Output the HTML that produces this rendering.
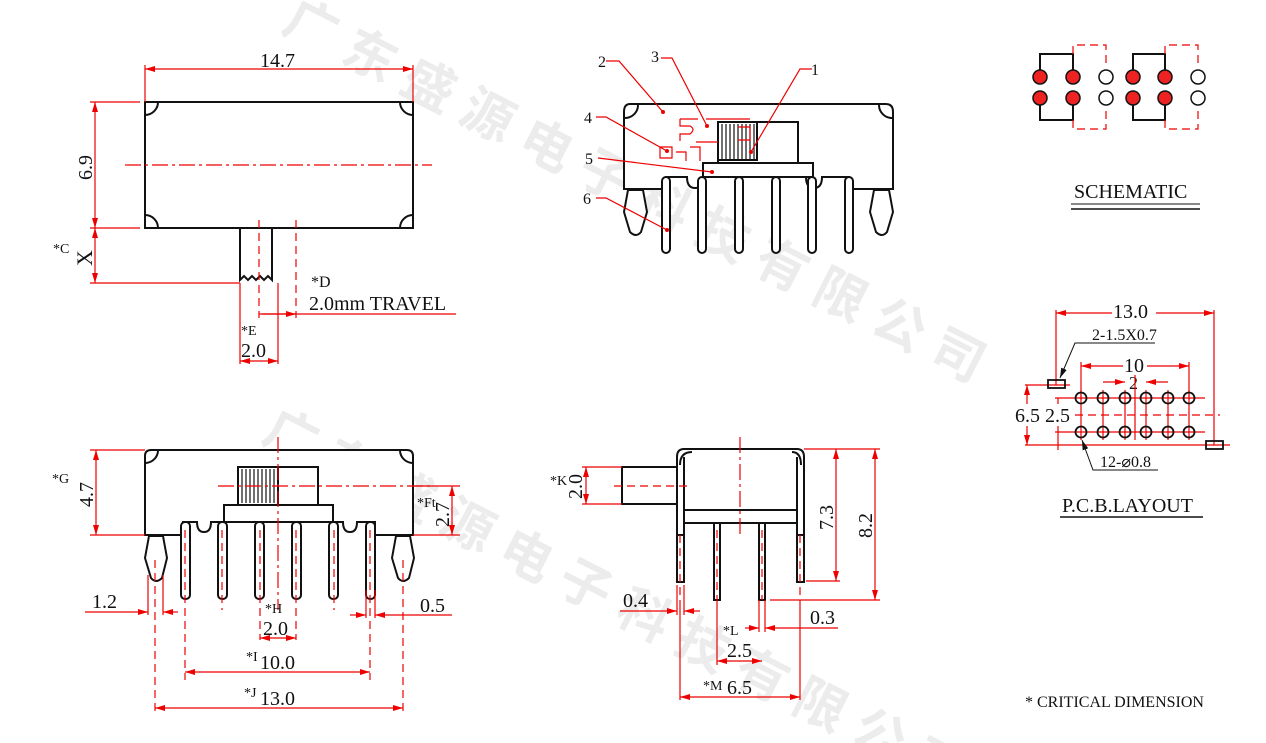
<!DOCTYPE html>
<html><head><meta charset="utf-8"><style>
html,body{margin:0;padding:0;background:#fff;width:1266px;height:743px;overflow:hidden}
svg{display:block}
text{font-family:"Liberation Serif","Noto Serif CJK SC",serif;fill:#111}
.wm{font-family:"Noto Sans CJK SC",sans-serif;fill:#ececec;font-weight:bold}
.k{stroke:#111;stroke-width:2;fill:none}
.kf{stroke:#111;stroke-width:2;fill:#fff}
.r{stroke:#e00;stroke-width:1.2;fill:none}
.rd{stroke:#e00;stroke-width:1.2;fill:none;stroke-dasharray:16,4,3,4}
.rdash{stroke:#e00;stroke-width:1.2;fill:none;stroke-dasharray:8,5}
</style></head><body>
<svg width="1266" height="743" viewBox="0 0 1266 743" xmlns="http://www.w3.org/2000/svg">
<defs>
<marker id="a" viewBox="0 0 10 6" refX="10" refY="3" markerWidth="10" markerHeight="6" orient="auto-start-reverse" markerUnits="userSpaceOnUse"><path d="M0,0 L10,3 L0,6z" fill="#e00"/></marker>
<marker id="b" viewBox="0 0 10 6" refX="10" refY="3" markerWidth="10" markerHeight="6" orient="auto-start-reverse" markerUnits="userSpaceOnUse"><path d="M0,0 L10,3 L0,6z" fill="#111"/></marker>
</defs>
<text class="wm" font-size="52" letter-spacing="14" transform="translate(280,30) rotate(27)">广东盛源电子科技有限公司</text>
<text class="wm" font-size="52" letter-spacing="14" transform="translate(260,440) rotate(27)">广东盛源电子科技有限公司</text>

<rect class="k" x="145" y="102" width="268" height="126"/>
<path class="k" stroke-width="1.5" d="M145,115 A13,13 0 0 0 158,102 M400,102 A13,13 0 0 0 413,115 M145,215 A13,13 0 0 1 158,228 M413,215 A13,13 0 0 0 400,228"/>
<line class="rd" x1="125" y1="165" x2="432" y2="165"/>
<path class="k" d="M240,228 V280 l4,-4 4,4 4,-4 4,4 4,-4 4,4 4,-4 4,4 V228"/>
<line class="rdash" x1="259" y1="220" x2="259" y2="318"/>
<line class="rdash" x1="296" y1="220" x2="296" y2="318"/>
<line class="r" x1="145" y1="65" x2="145" y2="102"/><line class="r" x1="413" y1="65" x2="413" y2="102"/>
<line class="r" x1="145" y1="69" x2="413" y2="69" marker-start="url(#a)" marker-end="url(#a)"/>
<text x="260" y="67" font-size="20">14.7</text>
<line class="r" x1="90" y1="102" x2="140" y2="102"/><line class="r" x1="90" y1="228" x2="140" y2="228"/>
<line class="r" x1="95" y1="102" x2="95" y2="228" marker-start="url(#a)" marker-end="url(#a)"/>
<text font-size="20" transform="translate(92,180) rotate(-90)">6.9</text>
<line class="r" x1="95" y1="228" x2="95" y2="283" marker-start="url(#a)" marker-end="url(#a)"/>
<line class="r" x1="90" y1="283" x2="240" y2="283"/>
<text x="53" y="253" font-size="14">*C</text>
<text font-size="22" transform="translate(92,266) rotate(-90)">X</text>
<text x="311" y="287" font-size="16">*D</text>
<text x="309" y="310" font-size="20">2.0mm TRAVEL</text>
<line class="r" x1="259" y1="314" x2="456" y2="314"/>
<line class="r" x1="262" y1="314" x2="296" y2="314" marker-end="url(#a)"/>
<line class="r" x1="240" y1="283" x2="240" y2="364"/><line class="r" x1="278" y1="283" x2="278" y2="364"/>
<line class="r" x1="240" y1="361" x2="278" y2="361" marker-start="url(#a)" marker-end="url(#a)"/>
<text x="241" y="335" font-size="14">*E</text>
<text x="241" y="357" font-size="20">2.0</text>

<path class="kf" d="M630,104 H886 Q893,104 893,112 V189 H849 V177 H822 Q822,188 814,188 Q806,188 806,177 H703 Q703,188 695,188 Q687,188 687,177 H667 V189 H624 V112 Q624,104 630,104Z"/>
<path class="k" stroke-width="1.5" d="M625,118 A13,13 0 0 0 638,105 M879,105 A13,13 0 0 0 892,118"/>
<rect class="k" x="718" y="122" width="80" height="41"/>
<rect class="k" x="703" y="163" width="110" height="14"/>
<g stroke="#111" stroke-width="1.2">
<line x1="722" y1="124" x2="722" y2="160"/><line x1="726" y1="124" x2="726" y2="160"/><line x1="730" y1="124" x2="730" y2="160"/><line x1="734" y1="124" x2="734" y2="160"/><line x1="738" y1="124" x2="738" y2="160"/><line x1="742" y1="124" x2="742" y2="160"/><line x1="746" y1="124" x2="746" y2="160"/><line x1="750" y1="124" x2="750" y2="160"/><line x1="754" y1="124" x2="754" y2="160"/></g>
<rect class="k" x="718" y="122" width="39" height="38"/>
<g class="k" fill="#fff">
<rect x="662" y="177" width="8" height="76" rx="4" fill="#fff"/>
<rect x="698" y="177" width="8" height="76" rx="4" fill="#fff"/>
<rect x="735" y="177" width="8" height="76" rx="4" fill="#fff"/>
<rect x="772" y="177" width="8" height="76" rx="4" fill="#fff"/>
<rect x="808" y="177" width="8" height="76" rx="4" fill="#fff"/>
<rect x="845" y="177" width="8" height="76" rx="4" fill="#fff"/>
</g>
<path class="kf" d="M628,190 L624,212 L630,232 Q636,238 641,232 L647,212 L643,190Z"/>
<path class="kf" d="M874,190 L870,212 L876,232 Q882,238 887,232 L893,212 L889,190Z"/>
<path class="r" d="M680,119 H698 M706,119 H750 M680,119 V126 H690 Q696,129 690,134 H680 V141 M660,147 H672 V158 H660Z M676,152 H686 V161 M690,147 H700 V161 M696,142 H718 M738,127 H750 V140 H738"/>
<g fill="#e00"><circle cx="663" cy="112" r="2"/><circle cx="707" cy="126" r="2"/><circle cx="751" cy="152" r="2"/><circle cx="667" cy="151" r="2"/><circle cx="712" cy="172" r="2"/><circle cx="667" cy="230" r="2"/></g>
<path class="r" d="M606,61 H619 L663,112 M661,58 H672 L707,126 M812,69 H800 L751,152 M596,117 H606 L667,151 M598,158 L712,172 M596,198 H606 L667,230"/>
<g font-size="16"><text x="598" y="67">2</text><text x="651" y="62">3</text><text x="811" y="75">1</text><text x="584" y="123">4</text><text x="585" y="164">5</text><text x="583" y="204">6</text></g>

<path class="k" stroke-width="1.5" d="M1040,77 V54 H1073 V77 M1040,98 V120 H1073 V98 M1133,77 V54 H1165 V77 M1133,98 V120 H1165 V98"/>
<path class="rdash" d="M1073,54 V45 H1106 V68 M1073,120 V129 H1106 V107 M1165,54 V45 H1198 V68 M1165,120 V129 H1198 V107"/>
<g stroke="#111" stroke-width="1.5">
<circle cx="1040" cy="77" r="7" fill="#e22"/><circle cx="1073" cy="77" r="7" fill="#e22"/><circle cx="1106" cy="77" r="7" fill="#fff"/>
<circle cx="1040" cy="98" r="7" fill="#e22"/><circle cx="1073" cy="98" r="7" fill="#e22"/><circle cx="1106" cy="98" r="7" fill="#fff"/>
<circle cx="1133" cy="77" r="7" fill="#e22"/><circle cx="1165" cy="77" r="7" fill="#e22"/><circle cx="1198" cy="77" r="7" fill="#fff"/>
<circle cx="1133" cy="98" r="7" fill="#e22"/><circle cx="1165" cy="98" r="7" fill="#e22"/><circle cx="1198" cy="98" r="7" fill="#fff"/>
</g>
<text x="1074" y="198" font-size="20">SCHEMATIC</text>
<line x1="1071" y1="204" x2="1200" y2="204" stroke="#111"/><line x1="1071" y1="209" x2="1200" y2="209" stroke="#111" stroke-width="1.5"/>

<line class="r" x1="1056" y1="310" x2="1056" y2="385"/><line class="r" x1="1214" y1="310" x2="1214" y2="445"/>
<line class="r" x1="1056" y1="313" x2="1214" y2="313" marker-start="url(#a)" marker-end="url(#a)"/>
<rect x="1112" y="302" width="44" height="18" fill="#fff"/>
<text x="1113" y="318" font-size="20">13.0</text>
<text x="1092" y="340" font-size="16">2-1.5X0.7</text>
<path d="M1155,343 H1075 L1060,378" stroke="#111" stroke-width="1" fill="none" marker-end="url(#b)"/>
<line class="r" x1="1081" y1="362" x2="1081" y2="400"/><line class="r" x1="1189" y1="362" x2="1189" y2="400"/>
<line class="r" x1="1081" y1="366" x2="1189" y2="366" marker-start="url(#a)" marker-end="url(#a)"/>
<rect x="1123" y="356" width="24" height="16" fill="#fff"/><text x="1124" y="372" font-size="20">10</text>
<line class="r" x1="1103" y1="382" x2="1125" y2="382" marker-end="url(#a)"/>
<line class="r" x1="1146" y1="382" x2="1168" y2="382" marker-start="url(#a)"/>
<text x="1129" y="389" font-size="18">2</text>
<line class="r" x1="1135" y1="375" x2="1135" y2="440"/>
<line class="r" x1="1025" y1="385" x2="1070" y2="385"/>
<line class="r" x1="1025" y1="445" x2="1230" y2="445"/>
<line class="r" x1="1027" y1="385" x2="1027" y2="445" marker-start="url(#a)" marker-end="url(#a)"/>
<line class="r" x1="1055" y1="398" x2="1205" y2="398"/><line class="r" x1="1055" y1="432" x2="1205" y2="432"/>
<line class="r" x1="1058" y1="398" x2="1058" y2="450"/>
<line class="rdash" x1="1075" y1="415" x2="1220" y2="415"/>
<rect x="1012" y="404" width="58" height="22" fill="#fff"/>
<text x="1015" y="422" font-size="20">6.5</text><text x="1045" y="422" font-size="20">2.5</text>
<g class="r">
<line x1="1081" y1="390" x2="1081" y2="440"/><line x1="1103" y1="390" x2="1103" y2="440"/><line x1="1125" y1="390" x2="1125" y2="440"/><line x1="1146" y1="390" x2="1146" y2="440"/><line x1="1168" y1="390" x2="1168" y2="440"/><line x1="1189" y1="390" x2="1189" y2="440"/></g>
<g stroke="#111" stroke-width="1.8" fill="none">
<circle cx="1081" cy="398" r="5.5"/><circle cx="1103" cy="398" r="5.5"/><circle cx="1125" cy="398" r="5.5"/><circle cx="1146" cy="398" r="5.5"/><circle cx="1168" cy="398" r="5.5"/><circle cx="1189" cy="398" r="5.5"/>
<circle cx="1081" cy="432" r="5.5"/><circle cx="1103" cy="432" r="5.5"/><circle cx="1125" cy="432" r="5.5"/><circle cx="1146" cy="432" r="5.5"/><circle cx="1168" cy="432" r="5.5"/><circle cx="1189" cy="432" r="5.5"/>
<rect x="1048" y="380" width="17" height="8"/><rect x="1206" y="441" width="17" height="8"/></g>
<path d="M1158,470 H1093 L1082,440" stroke="#111" stroke-width="1" fill="none" marker-end="url(#b)"/>
<text x="1100" y="467" font-size="16">12-⌀0.8</text>
<text x="1062" y="512" font-size="20">P.C.B.LAYOUT</text>
<line x1="1060" y1="517" x2="1203" y2="517" stroke="#111" stroke-width="1.5"/>
<text x="1025" y="707" font-size="16">* CRITICAL  DIMENSION</text>

<path class="kf" d="M151,450 H407 Q413,450 413,456 V535 H375 V522 H357 Q357,532 350,532 Q343,532 343,522 H211 Q211,532 204,532 Q197,532 197,522 H183 V535 H145 V456 Q145,450 151,450Z"/>
<path class="k" stroke-width="1.5" d="M146,463 A13,13 0 0 0 158,451 M400,451 A13,13 0 0 0 412,463"/>
<rect class="k" x="238" y="467" width="80" height="38"/>
<rect class="k" x="238" y="467" width="40" height="38"/>
<g stroke="#111" stroke-width="1.2"><line x1="242" y1="469" x2="242" y2="503"/><line x1="246" y1="469" x2="246" y2="503"/><line x1="250" y1="469" x2="250" y2="503"/><line x1="254" y1="469" x2="254" y2="503"/><line x1="258" y1="469" x2="258" y2="503"/><line x1="262" y1="469" x2="262" y2="503"/><line x1="266" y1="469" x2="266" y2="503"/><line x1="270" y1="469" x2="270" y2="503"/><line x1="274" y1="469" x2="274" y2="503"/></g>
<rect class="kf" x="224" y="505" width="109" height="17"/>
<g class="kf">
<rect x="181" y="522" width="9" height="77" rx="4"/><rect x="218" y="522" width="9" height="77" rx="4"/><rect x="255" y="522" width="9" height="77" rx="4"/><rect x="292" y="522" width="9" height="77" rx="4"/><rect x="329" y="522" width="9" height="77" rx="4"/><rect x="366" y="522" width="9" height="77" rx="4"/></g>
<path class="kf" d="M149,536 L145,558 L151,578 Q156,584 162,578 L167,558 L163,536Z"/>
<path class="kf" d="M396,536 L392,558 L398,578 Q403,584 409,578 L414,558 L410,536Z"/>
<line class="rd" x1="278" y1="437" x2="278" y2="610"/>
<line class="rd" x1="218" y1="486" x2="432" y2="486"/>
<g class="rdash"><line x1="185" y1="530" x2="185" y2="680"/><line x1="222" y1="530" x2="222" y2="610"/><line x1="260" y1="530" x2="260" y2="640"/><line x1="296" y1="530" x2="296" y2="640"/><line x1="334" y1="530" x2="334" y2="610"/><line x1="370" y1="530" x2="370" y2="680"/><line x1="155" y1="560" x2="155" y2="712"/><line x1="403" y1="560" x2="403" y2="712"/></g>
<line class="r" x1="90" y1="450" x2="145" y2="450"/><line class="r" x1="90" y1="535" x2="145" y2="535"/>
<line class="r" x1="96" y1="450" x2="96" y2="535" marker-start="url(#a)" marker-end="url(#a)"/>
<text x="52" y="483" font-size="14">*G</text>
<text font-size="20" transform="translate(93,507) rotate(-90)">4.7</text>
<line class="r" x1="413" y1="486" x2="460" y2="486"/><line class="r" x1="413" y1="535" x2="460" y2="535"/>
<line class="r" x1="452" y1="486" x2="452" y2="535" marker-start="url(#a)" marker-end="url(#a)"/>
<text x="417" y="507" font-size="14">*Ft</text>
<text font-size="20" transform="translate(449,527) rotate(-90)">2.7</text>
<line class="r" x1="148" y1="575" x2="148" y2="615"/><line class="r" x1="163" y1="575" x2="163" y2="615"/>
<line class="r" x1="85" y1="612" x2="148" y2="612" marker-end="url(#a)"/><line class="r" x1="178" y1="612" x2="163" y2="612" marker-end="url(#a)"/>
<text x="92" y="608" font-size="20">1.2</text>
<line class="r" x1="366" y1="590" x2="366" y2="618"/><line class="r" x1="375" y1="590" x2="375" y2="618"/>
<line class="r" x1="350" y1="615" x2="366" y2="615" marker-end="url(#a)"/><line class="r" x1="452" y1="615" x2="375" y2="615" marker-end="url(#a)"/>
<text x="420" y="612" font-size="20">0.5</text>
<line class="r" x1="260" y1="638" x2="296" y2="638" marker-start="url(#a)" marker-end="url(#a)"/>
<text x="265" y="613" font-size="14">*H</text><text x="263" y="635" font-size="20">2.0</text>
<line class="r" x1="185" y1="672" x2="370" y2="672" marker-start="url(#a)" marker-end="url(#a)"/>
<text x="246" y="661" font-size="14">*I</text><text x="260" y="669" font-size="20">10.0</text>
<line class="r" x1="155" y1="708" x2="403" y2="708" marker-start="url(#a)" marker-end="url(#a)"/>
<text x="244" y="697" font-size="14">*J</text><text x="260" y="705" font-size="20">13.0</text>

<path class="kf" d="M684,449 H797 Q804,449 804,457 V582 H797 V523 H684 V582 H677 V457 Q677,449 684,449Z"/>
<line class="k" x1="684" y1="457" x2="684" y2="523"/><line class="k" x1="797" y1="457" x2="797" y2="523"/>
<line class="k" x1="684" y1="510" x2="797" y2="510"/>
<line class="k" stroke-width="1.2" x1="677" y1="535" x2="684" y2="535"/><line class="k" stroke-width="1.2" x1="797" y1="535" x2="804" y2="535"/>
<path class="k" stroke-width="1.5" d="M680,465 Q680,452 692,452 M792,452 Q801,452 801,465"/>
<rect class="kf" x="622" y="467" width="55" height="37"/>
<rect class="kf" x="714" y="523" width="6" height="77"/><rect class="kf" x="759" y="523" width="6" height="77"/>
<line class="rd" x1="740" y1="437" x2="740" y2="538"/>
<line class="rdash" x1="614" y1="486" x2="690" y2="486"/>
<line class="rdash" x1="680" y1="535" x2="680" y2="600"/><line class="rdash" x1="800" y1="535" x2="800" y2="600"/>
<line class="rdash" x1="717" y1="530" x2="717" y2="600"/><line class="rdash" x1="762" y1="530" x2="762" y2="600"/>
<line class="r" x1="582" y1="467" x2="622" y2="467"/><line class="r" x1="582" y1="504" x2="622" y2="504"/>
<line class="r" x1="586" y1="467" x2="586" y2="504" marker-start="url(#a)" marker-end="url(#a)"/>
<text x="550" y="485" font-size="14">*K</text>
<text font-size="20" transform="translate(582,499) rotate(-90)">2.0</text>
<line class="r" x1="804" y1="449" x2="880" y2="449"/><line class="r" x1="806" y1="581" x2="840" y2="581"/><line class="r" x1="770" y1="600" x2="880" y2="600"/>
<line class="r" x1="836" y1="449" x2="836" y2="581" marker-start="url(#a)" marker-end="url(#a)"/>
<line class="r" x1="875" y1="449" x2="875" y2="600" marker-start="url(#a)" marker-end="url(#a)"/>
<text font-size="20" transform="translate(833,530) rotate(-90)">7.3</text>
<text font-size="20" transform="translate(872,538) rotate(-90)">8.2</text>
<line class="r" x1="677" y1="585" x2="677" y2="615"/><line class="r" x1="684" y1="585" x2="684" y2="615"/>
<line class="r" x1="620" y1="611" x2="677" y2="611" marker-end="url(#a)"/><line class="r" x1="700" y1="611" x2="684" y2="611" marker-end="url(#a)"/>
<text x="623" y="607" font-size="20">0.4</text>
<line class="r" x1="759" y1="600" x2="759" y2="632"/><line class="r" x1="765" y1="600" x2="765" y2="632"/>
<line class="r" x1="745" y1="628" x2="759" y2="628" marker-end="url(#a)"/><line class="r" x1="838" y1="628" x2="765" y2="628" marker-end="url(#a)"/>
<text x="810" y="624" font-size="20">0.3</text>
<line class="r" x1="717" y1="600" x2="717" y2="665"/>
<line class="r" x1="717" y1="661" x2="762" y2="661" marker-start="url(#a)" marker-end="url(#a)"/>
<text x="723" y="635" font-size="14">*L</text><text x="727" y="657" font-size="20">2.5</text>
<line class="r" x1="680" y1="600" x2="680" y2="700"/><line class="r" x1="800" y1="600" x2="800" y2="700"/>
<line class="r" x1="680" y1="697" x2="800" y2="697" marker-start="url(#a)" marker-end="url(#a)"/>
<text x="703" y="690" font-size="14">*M</text><text x="727" y="694" font-size="20">6.5</text>
</svg>
</body></html>
